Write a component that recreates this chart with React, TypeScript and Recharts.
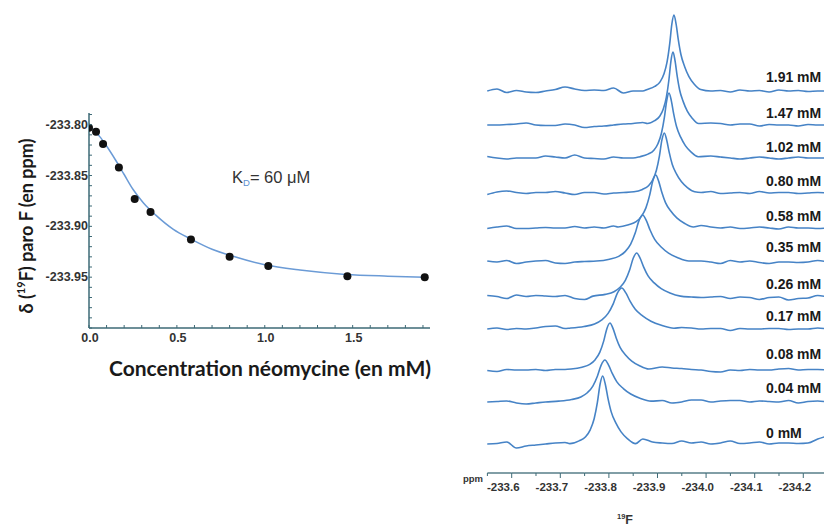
import React from 'react';
import { ComposedChart, Line, Scatter, XAxis, YAxis } from 'recharts';

// ---------- Left panel : titration curve ----------
const concentrations = [0, 0.04, 0.08, 0.17, 0.26, 0.35, 0.58, 0.8, 1.02, 1.47, 1.91];
const observedShifts = [-233.803, -233.807, -233.819, -233.842, -233.873, -233.886, -233.913, -233.93, -233.939, -233.949, -233.95];
const fitConcentrations = [0, 0.03, 0.06, 0.1, 0.15, 0.2, 0.25, 0.31, 0.38, 0.48, 0.58, 0.7, 0.82, 1.0, 1.2, 1.46, 1.7, 1.91];
const fitShifts = [-233.8, -233.806, -233.8115, -233.821, -233.8345, -233.849, -233.8635, -233.877, -233.889, -233.903, -233.9125, -233.9225, -233.9295, -233.9378, -233.943, -233.9473, -233.949, -233.95];
const shiftTickLabels = ['-233.80', '-233.85', '-233.90', '-233.95'];
const concTickLabels = ['0.0', '0.5', '1.0', '1.5'];

// ---------- Right panel : 19F spectra ----------
const spectrumLabels = ['0 mM', '0.04 mM', '0.08 mM', '0.17 mM', '0.26 mM', '0.35 mM', '0.58 mM', '0.80 mM', '1.02 mM', '1.47 mM', '1.91 mM'];
const traceOffsets = [28, 71, 103, 144, 176, 211, 245, 280, 315, 348, 382];
const labelLevels = [40, 85, 119, 157, 189, 226, 257, 292, 326, 360, 396];
const peakCenters = [-233.8045, -233.809, -233.8195, -233.8436, -233.8745, -233.8868, -233.9136, -233.9313, -233.941, -233.9492, -233.9512];
const peakHeights = [69, 42, 47, 41, 44, 47, 53, 60, 65, 73, 76];
const peakHalfWidths = [0.0135, 0.019, 0.016, 0.0215, 0.018, 0.019, 0.0155, 0.0125, 0.012, 0.0105, 0.011];
const profileOffsets = [-5, -3.6, -2.6, -1.9, -1.3, -0.8, -0.4, 0, 0.4, 0.8, 1.3, 2.0, 2.8, 3.8, 5];
const profileHeights = [0.02, 0.06, 0.12, 0.22, 0.38, 0.62, 0.88, 1, 0.88, 0.68, 0.48, 0.32, 0.19, 0.09, 0.02];
const gridPpm = [-233.567, -233.587, -233.607, -233.627, -233.647, -233.667, -233.687, -233.707, -233.727, -233.747, -233.767, -233.787, -233.807, -233.827, -233.847, -233.867, -233.887, -233.907, -233.927, -233.947, -233.967, -233.987, -234.007, -234.027, -234.047, -234.067, -234.087, -234.107, -234.127, -234.147, -234.167, -234.187, -234.207, -234.227, -234.247, -234.267];
const noise0 = [1, 1.5, 3, -3, -1, 0, 1, 2, 2.5, 4, 0, 0, 0, 0, 0, 0, 6, 3, 2, 1.5, 4, 2, 3, 1, 2, 4, 1.5, 2, 3, 1, 2, 2, 1.5, 2, 6, 9];
const noise1 = [0, 0.5, 1, -1, -2, -1, 0, 0.5, 0, 0, 0, 0, 0, 0, 0, 0, 0, 4, 1.5, -1, 0, 2, 2, 0, 1, 1.5, 1.5, 0, 1, 0.5, 0, 1.5, -1, 0.5, 1, 0];
const noise2 = [-0.5, -1.5, 0.5, 0, 0, 0.5, -0.5, 0.5, 0.5, 0, 0, 0, 0, 0, 0, 0, 0, 3.5, 3, 2, 1.5, 0.5, 0, -1.5, -2, 0, -0.5, 0.5, 0, 0, 1, 1.5, 0, 0.5, 0.5, 0];
const noise3 = [0, 1, -0.5, 0.5, 0, 1, 2.5, 3, 0.5, 0, 0, 0, 0, 0, 0, 0, 0, 0, 0, 0, 1.5, 1, 0, 0.5, 0.5, -1.5, 0.5, 0, 0, 0.5, 0.5, -0.5, 0, 0, 1, 0];
const noise4 = [1.5, 0.5, -1.5, 2, 0.5, 1.5, 1, 0.5, 1.5, -1.5, -2.5, 0, 0, 0, 0, 0, 0, 0, 0, 0, 2, 0, -0.5, 0, 0.5, -1.5, 0, -0.5, -2.5, -0.5, 0, -3, -1.5, -1, 1.5, 0];
const noise5 = [1, 0, 1.5, -1.5, 0, 1, 1.5, -1, -1.5, 0, 0.5, 1.5, 0, 0, 0, 0, 0, 0, 0, 0, 0, 1.5, 1, 0, -1.5, 1.5, 0, 1, -0.5, -1.5, 0, 0, -0.5, 0, 1.5, 0];
const noise6 = [-0.5, 1, 2, -0.5, -0.5, 0, 0.5, 0, 0, 1.5, 0, 1, 0, 2, 0, 0, 0, 0, 0, 0, 0, 0, 2.5, 1, 0, 1, -0.5, 0, 1, 0, -1, 1, 0, 0, -0.5, 0];
const noise7 = [-1.5, 1, 2, 0.5, -0.5, 0.5, 0.5, 1.5, 0, -1.5, 0.5, 0.5, -1, 0, 0.5, 1, 0, 0, 0, 0, 0, 0, 0.5, 1.5, -0.5, 0, 0.5, -0.5, 1.5, 0, 0.5, 0.5, -0.5, 0, 0.5, 0];
const noise8 = [1.5, 0, -1, 0, 0, 0, 2, 1, 0, 3, 0, -0.5, -1, 1, 0, 0, 0, 0, 0, 0, 0, 0, 1.5, 2, 1, 0, -1, 0, 1, 0, -1, 0, 1, 0, 0, 0];
const noise9 = [0, 0, 0.5, 1, 2, 0, -0.5, -0.5, 1, 0, -2.5, -1.5, -1, 0, 1, 1.5, 2.5, 0, 0, 0, 0, 0, 3, 2, 1.5, 0, 1, 1, -1, 0.5, 0, 0, -1, 0.5, 0, 0];
const noise10 = [0, 2, -1.5, 0.5, -1, -1.5, 0, 1.5, 4, 2, 0.5, 1, 0.5, 3, -2, 0, 0, 1.5, 0, 0, 0, 0, 0.5, 0, 0.5, -1, 1, 0, 0.5, -1, 1, 0, 0.5, -0.5, 0, 0];
const baselineNoise = [noise0, noise1, noise2, noise3, noise4, noise5, noise6, noise7, noise8, noise9, noise10];
const ppmTickLabels = ['-233.6', '-233.7', '-233.8', '-233.9', '-234.0', '-234.1', '-234.2'];
const labelPpm = -234.1405;

// ---------- styles ----------
const AXIS_COLOR = '#3d6a76';
const TRACE_COLOR = '#4683c6';
const FIT_COLOR = '#6b9bd6';
const SANS = '"Liberation Sans", Arial, sans-serif';
const TITLE_FONT = 'Lato, "Open Sans", sans-serif';
const JOIN_GAP = 0.009; // ppm kept free between baseline samples and peak profile

// ---------- derived tables ----------
const titrationPoints = concentrations.map((c, i) => ({ x: c, y: observedShifts[i] }));
const fitPoints = fitConcentrations.map((c, i) => ({ x: c, y: fitShifts[i] }));
const shiftTicks = Array.from({ length: 22 }, (_, k) => Math.round((-234 + k * 0.01) * 1000) / 1000);
const concTicks = Array.from({ length: 20 }, (_, k) => Math.round(k * 0.1 * 100) / 100);
const ppmTicks: number[] = [];
ppmTickLabels.forEach((l) => {
  const v = parseFloat(l);
  ppmTicks.push(Math.round((v + 0.05) * 1000) / 1000);
  ppmTicks.push(v);
});
ppmTicks.push(-234.25);

const traces = spectrumLabels.map((_, k) => {
  const c = peakCenters[k];
  const hw = peakHalfWidths[k];
  const h = peakHeights[k];
  const base = traceOffsets[k];
  const lo = profileOffsets[0] * hw - JOIN_GAP;
  const hi = profileOffsets[profileOffsets.length - 1] * hw + JOIN_GAP;
  const pts: { ppm: number; v: number }[] = [];
  gridPpm.forEach((p, i) => {
    const d = c - p;
    if (d < lo || d > hi) pts.push({ ppm: p, v: base + baselineNoise[k][i] });
  });
  profileOffsets.forEach((o, j) => pts.push({ ppm: c - o * hw, v: base + profileHeights[j] * h }));
  pts.sort((a, b) => b.ppm - a.ppm);
  return pts;
});
const labelPoints = spectrumLabels.map((s, k) => ({ ppm: labelPpm, v: labelLevels[k], name: s }));

const findLabel = (labels: string[], v: number) => labels.find((l) => Math.abs(parseFloat(l) - v) < 1e-6);

const ShiftTick = (props: any) => {
  const { x, y, payload } = props;
  const label = findLabel(shiftTickLabels, payload.value);
  return (
    <g>
      <line x1={x} x2={x + 3} y1={y} y2={y} stroke={AXIS_COLOR} strokeWidth={1} />
      {label && (
        <text x={x - 1} y={y} textAnchor="end" dominantBaseline="central" fontFamily={SANS} fontWeight={700} fontSize={12.5} fill="#333">
          {label}
        </text>
      )}
    </g>
  );
};

const ConcTick = (props: any) => {
  const { x, y, payload } = props;
  const label = concTickLabels.find((l) => Math.abs(parseFloat(l) - payload.value) < 1e-6);
  return (
    <g>
      <line x1={x} x2={x} y1={y} y2={y - 3} stroke={AXIS_COLOR} strokeWidth={1} />
      {label && (
        <text x={x + 1} y={y + 10} textAnchor="middle" dominantBaseline="central" fontFamily={SANS} fontWeight={700} fontSize={12.5} fill="#333">
          {label}
        </text>
      )}
    </g>
  );
};

const PpmTick = (props: any) => {
  const { x, y, payload } = props;
  const label = findLabel(ppmTickLabels, payload.value);
  const mx = x + 8.4;
  return (
    <g>
      <line x1={mx} x2={mx + 24.3} y1={y} y2={y} stroke={AXIS_COLOR} strokeWidth={1.3} />
      <line x1={mx} x2={mx} y1={y} y2={y + (label ? 5 : 3)} stroke={AXIS_COLOR} strokeWidth={1} />
      {label && (
        <text x={x} y={y + 14} textAnchor="middle" dominantBaseline="central" fontFamily={SANS} fontWeight={700} fontSize={11.5} fill="#333">
          {label}
        </text>
      )}
    </g>
  );
};

const renderDot = (p: any) => <circle cx={p.cx} cy={p.cy} r={4} fill="#111" />;
const renderConcLabel = (p: any) => (
  <text x={p.cx} y={p.cy} textAnchor="start" dominantBaseline="central" fontFamily={SANS} fontWeight={700} fontSize={14} fill="#1a1a1a">
    {p.payload.name}
  </text>
);

export default function App() {
  return (
    <div style={{ position: 'absolute', left: 0, top: 0, width: 824, height: 526, overflow: 'hidden', background: '#fff' }}>
      <div style={{ position: 'absolute', left: 0, top: 0 }}>
        <ComposedChart width={460} height={400} margin={{ top: 113, right: 30, bottom: 42, left: 29 }}>
          <XAxis type="number" dataKey="x" domain={[0, 1.94]} ticks={concTicks} interval={0} tickSize={0} tickMargin={0} tickLine={false}
            axisLine={{ stroke: AXIS_COLOR, strokeWidth: 1.5 }} tick={(p: any) => <ConcTick {...p} />} height={30} allowDataOverflow />
          <YAxis type="number" dataKey="y" domain={[-234, -233.7885]} ticks={shiftTicks} interval={0} tickSize={0} tickMargin={0} tickLine={false}
            axisLine={{ stroke: AXIS_COLOR, strokeWidth: 1.5 }} tick={(p: any) => <ShiftTick {...p} />} width={60} allowDataOverflow />
          <Line data={fitPoints} dataKey="y" type="monotone" stroke={FIT_COLOR} strokeWidth={1.5} dot={false} isAnimationActive={false} />
          <Scatter data={titrationPoints} dataKey="y" fill="#111" shape={renderDot} isAnimationActive={false} />
          <text x={232} y={177} dominantBaseline="central" fontFamily={SANS} fontSize={16.5} fill="#333">
            K<tspan fontSize={9.5} dy={5} fill="#5b8fd0">D</tspan>
            <tspan dy={-5}>= 60 μM</tspan>
          </text>
          <text x={270} y={367} textAnchor="middle" dominantBaseline="central" fontFamily={TITLE_FONT} fontWeight={700} fontSize={21} fill="#1a1a1a">
            Concentration néomycine (en mM)
          </text>
          <text x={25.5} y={226} transform="rotate(-90, 25.5, 226)" textAnchor="middle" dominantBaseline="central" fontFamily={TITLE_FONT} fontWeight={700} fontSize={18} fill="#1a1a1a">
            δ (<tspan fontSize={11} dy={-6}>19</tspan><tspan dy={6}>F) paro F (en ppm)</tspan>
          </text>
        </ComposedChart>
      </div>
      <div style={{ position: 'absolute', left: 440, top: 0 }}>
        <ComposedChart width={462} height={526} margin={{ top: 0, right: 0, bottom: 0, left: 39 }}>
          <XAxis type="number" dataKey="ppm" domain={[-234.4204, -233.55]} reversed ticks={ppmTicks} interval={0} tickSize={0} tickMargin={0}
            tickLine={false} axisLine={false} tick={(p: any) => <PpmTick {...p} />} height={53} allowDataOverflow />
          <YAxis type="number" dataKey="v" domain={[0, 473]} hide allowDataOverflow />
          {traces.map((t, k) => (
            <Line key={spectrumLabels[k]} data={t} dataKey="v" type="monotone" stroke={TRACE_COLOR} strokeWidth={1.6} dot={false} isAnimationActive={false} />
          ))}
          <Scatter data={labelPoints} dataKey="v" shape={renderConcLabel} isAnimationActive={false} />
          <text x={43} y={478} textAnchor="end" dominantBaseline="central" fontFamily={SANS} fontWeight={700} fontSize={9.5} fill="#333">ppm</text>
          <text x={177} y={520} dominantBaseline="central" fontFamily={SANS} fontWeight={700} fontSize={12.5} fill="#333">
            <tspan fontSize={7.5} dy={-4}>19</tspan><tspan dy={4}>F</tspan>
          </text>
        </ComposedChart>
      </div>
    </div>
  );
}
